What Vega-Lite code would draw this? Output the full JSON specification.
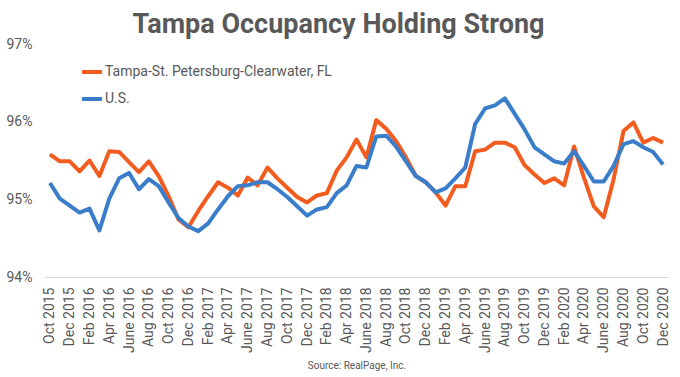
{
  "$schema": "https://vega.github.io/schema/vega-lite/v6.json",
  "autosize": "none",
  "width": 623,
  "height": 233,
  "padding": {"left": 45, "top": 44, "right": 12, "bottom": 100},
  "background": "white",
  "title": {
    "text": "Tampa Occupancy Holding Strong",
    "font": "Roboto",
    "fontSize": 27,
    "fontWeight": "bold",
    "color": "#595959",
    "anchor": "middle",
    "baseline": "alphabetic",
    "offset": 4,
    "dx": -18,
    "dy": 27
  },
  "config": {
    "view": {"stroke": null},
    "font": "Roboto"
  },
  "data": {
    "values": [
      {"m": "Oct 2015", "t": 95.58, "u": 95.21},
      {"m": "Nov 2015", "t": 95.49, "u": 95.01},
      {"m": "Dec 2015", "t": 95.49, "u": 94.92},
      {"m": "Jan 2016", "t": 95.36, "u": 94.83},
      {"m": "Feb 2016", "t": 95.50, "u": 94.88},
      {"m": "Mar 2016", "t": 95.30, "u": 94.60},
      {"m": "Apr 2016", "t": 95.62, "u": 95.01},
      {"m": "May 2016", "t": 95.61, "u": 95.27},
      {"m": "June 2016", "t": 95.48, "u": 95.34},
      {"m": "July 2016", "t": 95.35, "u": 95.13},
      {"m": "Aug 2016", "t": 95.49, "u": 95.26},
      {"m": "Sep 2016", "t": 95.30, "u": 95.17},
      {"m": "Oct 2016", "t": 95.04, "u": 94.96},
      {"m": "Nov 2016", "t": 94.74, "u": 94.76},
      {"m": "Dec 2016", "t": 94.64, "u": 94.65},
      {"m": "Jan 2017", "t": 94.85, "u": 94.59},
      {"m": "Feb 2017", "t": 95.04, "u": 94.69},
      {"m": "Mar 2017", "t": 95.22, "u": 94.87},
      {"m": "Apr 2017", "t": 95.15, "u": 95.04},
      {"m": "May 2017", "t": 95.05, "u": 95.17},
      {"m": "June 2017", "t": 95.28, "u": 95.18},
      {"m": "July 2017", "t": 95.18, "u": 95.22},
      {"m": "Aug 2017", "t": 95.41, "u": 95.22},
      {"m": "Sep 2017", "t": 95.27, "u": 95.13},
      {"m": "Oct 2017", "t": 95.15, "u": 95.03},
      {"m": "Nov 2017", "t": 95.03, "u": 94.91},
      {"m": "Dec 2017", "t": 94.96, "u": 94.79},
      {"m": "Jan 2018", "t": 95.05, "u": 94.87},
      {"m": "Feb 2018", "t": 95.08, "u": 94.90},
      {"m": "Mar 2018", "t": 95.37, "u": 95.08},
      {"m": "Apr 2018", "t": 95.54, "u": 95.18},
      {"m": "May 2018", "t": 95.77, "u": 95.43},
      {"m": "June 2018", "t": 95.54, "u": 95.41},
      {"m": "July 2018", "t": 96.02, "u": 95.81},
      {"m": "Aug 2018", "t": 95.91, "u": 95.82},
      {"m": "Sep 2018", "t": 95.75, "u": 95.68},
      {"m": "Oct 2018", "t": 95.54, "u": 95.49},
      {"m": "Nov 2018", "t": 95.30, "u": 95.30},
      {"m": "Dec 2018", "t": 95.22, "u": 95.22},
      {"m": "Jan 2019", "t": 95.09, "u": 95.09},
      {"m": "Feb 2019", "t": 94.92, "u": 95.14},
      {"m": "Mar 2019", "t": 95.17, "u": 95.27},
      {"m": "Apr 2019", "t": 95.17, "u": 95.41},
      {"m": "May 2019", "t": 95.62, "u": 95.97},
      {"m": "June 2019", "t": 95.64, "u": 96.17},
      {"m": "July 2019", "t": 95.73, "u": 96.21},
      {"m": "Aug 2019", "t": 95.73, "u": 96.30},
      {"m": "Sep 2019", "t": 95.67, "u": 96.10},
      {"m": "Oct 2019", "t": 95.44, "u": 95.90},
      {"m": "Nov 2019", "t": 95.32, "u": 95.67},
      {"m": "Dec 2019", "t": 95.21, "u": 95.58},
      {"m": "Jan 2020", "t": 95.27, "u": 95.49},
      {"m": "Feb 2020", "t": 95.18, "u": 95.46},
      {"m": "Mar 2020", "t": 95.68, "u": 95.62},
      {"m": "Apr 2020", "t": 95.28, "u": 95.43},
      {"m": "May 2020", "t": 94.91, "u": 95.23},
      {"m": "June 2020", "t": 94.77, "u": 95.23},
      {"m": "July 2020", "t": 95.26, "u": 95.43},
      {"m": "Aug 2020", "t": 95.88, "u": 95.71},
      {"m": "Sep 2020", "t": 95.99, "u": 95.75},
      {"m": "Oct 2020", "t": 95.73, "u": 95.67},
      {"m": "Nov 2020", "t": 95.79, "u": 95.61},
      {"m": "Dec 2020", "t": 95.73, "u": 95.45}
    ]
  },
  "transform": [{"fold": ["t", "u"], "as": ["series", "value"]}],
  "mark": {"type": "line", "strokeWidth": 4, "strokeJoin": "round", "strokeCap": "butt"},
  "encoding": {
    "x": {
      "field": "m",
      "type": "ordinal",
      "sort": null,
      "scale": {"type": "point", "padding": 0.5},
      "axis": {
        "values": ["Oct 2015","Dec 2015","Feb 2016","Apr 2016","June 2016","Aug 2016","Oct 2016","Dec 2016","Feb 2017","Apr 2017","June 2017","Aug 2017","Oct 2017","Dec 2017","Feb 2018","Apr 2018","June 2018","Aug 2018","Oct 2018","Dec 2018","Feb 2019","Apr 2019","June 2019","Aug 2019","Oct 2019","Dec 2019","Feb 2020","Apr 2020","June 2020","Aug 2020","Oct 2020","Dec 2020"],
        "labelAngle": -90,
        "labelAlign": "right",
        "labelBaseline": "middle",
        "labelFontSize": 14,
        "labelColor": "#595959",
        "labelPadding": 10,
        "ticks": false,
        "tickSize": 0,
        "domainColor": "#d9d9d9",
        "domainWidth": 1,
        "grid": false,
        "title": "Source: RealPage, Inc.",
        "titleFontSize": 10,
        "titleFontWeight": "normal",
        "titleColor": "#595959",
        "titleY": 88,
        "titleBaseline": "middle"
      }
    },
    "y": {
      "field": "value",
      "type": "quantitative",
      "scale": {"domain": [94, 97], "nice": false, "zero": false},
      "axis": {
        "values": [94, 95, 96, 97],
        "labelExpr": "datum.value + '%'",
        "labelAlign": "left",
        "labelFontSize": 14,
        "labelColor": "#595959",
        "labelPadding": 39,
        "ticks": false,
        "tickSize": 0,
        "domain": false,
        "grid": false,
        "title": null
      }
    },
    "color": {
      "field": "series",
      "type": "nominal",
      "scale": {"domain": ["t", "u"], "range": ["#F25C1E", "#3A7DCB"]},
      "legend": {
        "orient": "none",
        "legendX": 35,
        "legendY": 16,
        "title": null,
        "symbolType": "stroke",
        "symbolSize": 400,
        "symbolStrokeWidth": 4,
        "labelFontSize": 14,
        "labelColor": "#595959",
        "labelOffset": 1,
        "labelLimit": 400,
        "rowPadding": 7,
        "padding": 0,
        "labelExpr": "datum.label == 't' ? 'Tampa-St. Petersburg-Clearwater, FL' : 'U.S.'"
      }
    }
  }
}
